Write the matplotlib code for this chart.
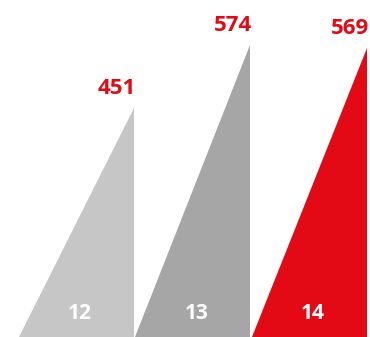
import matplotlib.pyplot as plt

# Data
years = ['12', '13', '14']
values = [451, 574, 569]
colors = ['#c6c6c6', '#a6a6a6', '#e30a16']
red = '#e30a16'

fig = plt.figure(figsize=(3.7, 3.37), dpi=100)
ax = fig.add_axes([0, 0, 1, 1])
ax.axis('off')

width = 0.985
for i, (lab, v, c) in enumerate(zip(years, values, colors)):
    left = i - 0.5
    right = left + width
    # right-angled triangle: vertical edge on the right
    ax.fill([left, right, right], [0, 0, v], color=c, lw=0)
    ax.annotate(v, xy=(right, v), xytext=(1.5, 10), textcoords='offset points',
                ha='right', va='baseline', color=red, fontsize=16,
                fontweight='bold', family=['Open Sans', 'DejaVu Sans'])
    ax.annotate(lab, xy=(left + width * 0.53, 0), xytext=(0, 13),
                textcoords='offset points', ha='center', va='baseline',
                color='white', fontsize=15, fontweight='bold',
                family=['Open Sans', 'DejaVu Sans'])

ax.set_xlim(-0.663, 2.513)
ax.set_ylim(0, 662.5)

fig.savefig('out.png', dpi=100)
